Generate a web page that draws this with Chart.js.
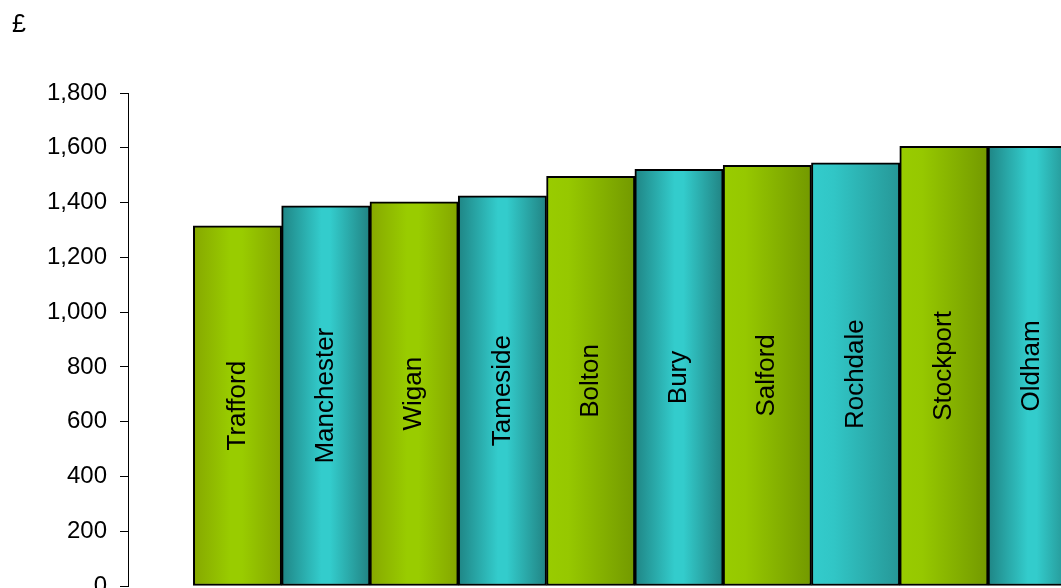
<!DOCTYPE html>
<html>
<head>
<meta charset="utf-8">
<script src="https://cdn.jsdelivr.net/npm/chart.js@4"></script>
<style>
  html, body { margin: 0; padding: 0; background: #fff; overflow: hidden; }
  #wrap { width: 1061px; height: 620px; position: relative; }
</style>
</head>
<body>
<div id="wrap"><canvas id="costChart"></canvas></div>
<script>
// spend per head, £
const categories = ['Trafford', 'Manchester', 'Wigan', 'Tameside', 'Bolton', 'Bury', 'Salford', 'Rochdale', 'Stockport', 'Oldham'];
const values = [1315, 1388, 1403, 1425, 1496, 1521, 1536, 1545, 1605, 1605];
const yTicks = [0, 200, 400, 600, 800, 1000, 1200, 1400, 1600, 1800];

// fill look of each bar, in category order
const shading = ['greenRound', 'tealRound', 'greenRound', 'tealRound', 'greenSlope', 'tealRound', 'greenSlope', 'tealSlope', 'greenSlope', 'tealRound'];

const stops = {
    greenRound: [[0, '#86a800'], [0.42, '#99cc00'], [0.55, '#99cc00'], [1, '#84a600']],
    tealRound: [[0, '#1f8585'], [0.45, '#33cccc'], [0.55, '#33cccc'], [1, '#218383']],
    greenSlope: [[0, '#99cc00'], [0.25, '#96c800'], [1, '#739900']],
    tealSlope: [[0, '#33cccc'], [0.25, '#31c6c6'], [1, '#269797']]
};

const font = "Arial, 'Liberation Sans', sans-serif";

function barFill(context) {
    const chart = context.chart;
    const xs = chart.scales.x;
    if (!chart.chartArea || !xs) return '#99cc00';
    const i = context.dataIndex;
    const w = xs.getPixelForValue(1) - xs.getPixelForValue(0);
    const cx = xs.getPixelForValue(i);
    const g = chart.ctx.createLinearGradient(cx - w / 2, 0, cx + w / 2, 0);
    stops[shading[i]].forEach(s => g.addColorStop(s[0], s[1]));
    return g;
}

// names written up the middle of each bar
const barNames = {
    id: 'barNames',
    afterDatasetsDraw(chart) {
        const ctx = chart.ctx;
        chart.getDatasetMeta(0).data.forEach((bar, i) => {
            ctx.save();
            ctx.translate(bar.x, (bar.y + bar.base) / 2);
            ctx.rotate(-Math.PI / 2);
            ctx.font = '26px ' + font;
            ctx.fillStyle = '#000';
            ctx.textAlign = 'center';
            ctx.textBaseline = 'middle';
            ctx.fillText(categories[i], 0, 0);
            ctx.restore();
        });
    }
};

document.addEventListener('DOMContentLoaded', () => {
    const ctx = document.getElementById('costChart').getContext('2d');
    new Chart(ctx, {
        type: 'bar',
        data: {
            datasets: [{
                data: values.map((v, i) => ({ x: i, y: v })),
                backgroundColor: barFill,
                borderColor: '#000',
                borderWidth: 2,
                borderSkipped: false,
                barPercentage: 1,
                categoryPercentage: 1
            }]
        },
        options: {
            responsive: true,
            maintainAspectRatio: false,
            animation: false,
            layout: {
                padding: { left: 12, right: 0, top: 0, bottom: 26 }
            },
            scales: {
                x: {
                    type: 'linear',
                    offset: false,
                    min: -1.24,
                    max: 9.326,
                    ticks: { display: false },
                    grid: { display: false, offset: false },
                    border: { display: false }
                },
                y: {
                    min: 0,
                    max: 1800,
                    afterBuildTicks: (scale) => {
                        scale.ticks = yTicks.map(v => ({ value: v }));
                    },
                    afterFit: (scale) => {
                        scale.width = 116;
                    },
                    ticks: {
                        color: '#000',
                        padding: 13,
                        font: { family: font, size: 24 },
                        callback: (v) => v.toLocaleString('en-GB')
                    },
                    grid: {
                        drawOnChartArea: false,
                        drawTicks: true,
                        tickLength: 8,
                        color: '#000'
                    },
                    border: { display: true, color: '#000' }
                }
            },
            plugins: {
                legend: { display: false },
                tooltip: { enabled: false },
                title: {
                    display: true,
                    text: '£',
                    align: 'start',
                    color: '#000',
                    font: { family: font, size: 25, weight: 'normal' },
                    padding: { top: 10, bottom: 53 }
                }
            }
        },
        plugins: [barNames]
    });
});
</script>
</body>
</html>
